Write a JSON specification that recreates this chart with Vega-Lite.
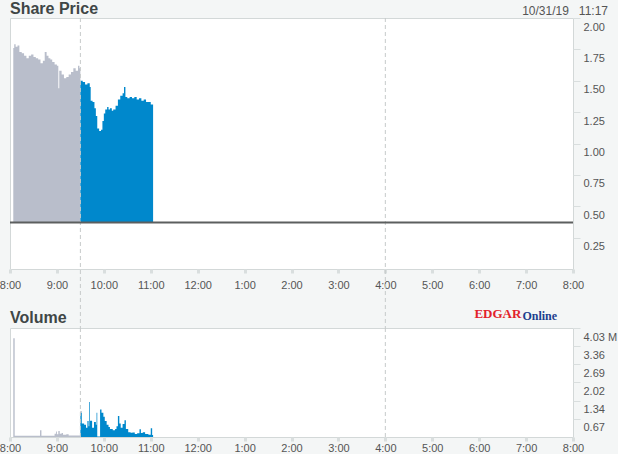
{
  "$schema": "https://vega.github.io/schema/vega-lite/v6.json",
  "background": "#f4f6f6",
  "padding": {"left": -2, "top": 0, "right": 0, "bottom": 0},
  "bounds": "flush",
  "spacing": 59,
  "config": {
    "font": "Liberation Sans",
    "view": {"fill": "white", "stroke": "#d3d8d8"},
    "axis": {"grid": false, "domain": false, "labelFont": "Liberation Sans", "labelFontSize": 11, "labelColor": "#555555", "tickColor": "#d9dede", "labelOverlap": false}
  },
  "datasets": {
    "price": [
      {"h": 8.07, "p": 1.76, "s": "pre"}, {"h": 8.09, "p": 1.79, "s": "pre"}, {"h": 8.12, "p": 1.77, "s": "pre"},
      {"h": 8.16, "p": 1.78, "s": "pre"}, {"h": 8.2, "p": 1.73, "s": "pre"}, {"h": 8.25, "p": 1.72, "s": "pre"},
      {"h": 8.3, "p": 1.7, "s": "pre"}, {"h": 8.35, "p": 1.68, "s": "pre"}, {"h": 8.4, "p": 1.7, "s": "pre"},
      {"h": 8.45, "p": 1.71, "s": "pre"}, {"h": 8.5, "p": 1.69, "s": "pre"}, {"h": 8.55, "p": 1.68, "s": "pre"},
      {"h": 8.6, "p": 1.67, "s": "pre"}, {"h": 8.65, "p": 1.64, "s": "pre"}, {"h": 8.7, "p": 1.66, "s": "pre"},
      {"h": 8.74, "p": 1.73, "s": "pre"}, {"h": 8.78, "p": 1.7, "s": "pre"}, {"h": 8.82, "p": 1.68, "s": "pre"},
      {"h": 8.86, "p": 1.67, "s": "pre"}, {"h": 8.9, "p": 1.65, "s": "pre"}, {"h": 8.95, "p": 1.63, "s": "pre"},
      {"h": 9.0, "p": 1.62, "s": "pre"}, {"h": 9.03, "p": 1.44, "s": "pre"}, {"h": 9.05, "p": 1.58, "s": "pre"},
      {"h": 9.1, "p": 1.55, "s": "pre"}, {"h": 9.15, "p": 1.52, "s": "pre"}, {"h": 9.2, "p": 1.53, "s": "pre"},
      {"h": 9.25, "p": 1.55, "s": "pre"}, {"h": 9.3, "p": 1.57, "s": "pre"}, {"h": 9.35, "p": 1.6, "s": "pre"},
      {"h": 9.4, "p": 1.58, "s": "pre"}, {"h": 9.45, "p": 1.62, "s": "pre"}, {"h": 9.48, "p": 1.6, "s": "pre"},
      {"h": 9.5, "p": 1.6, "s": "pre"},
      {"h": 9.5, "p": 1.5, "s": "reg"}, {"h": 9.55, "p": 1.49, "s": "reg"}, {"h": 9.6, "p": 1.47, "s": "reg"},
      {"h": 9.65, "p": 1.48, "s": "reg"}, {"h": 9.7, "p": 1.45, "s": "reg"}, {"h": 9.72, "p": 1.34, "s": "reg"},
      {"h": 9.76, "p": 1.33, "s": "reg"}, {"h": 9.8, "p": 1.28, "s": "reg"}, {"h": 9.83, "p": 1.22, "s": "reg"},
      {"h": 9.86, "p": 1.12, "s": "reg"}, {"h": 9.9, "p": 1.1, "s": "reg"}, {"h": 9.94, "p": 1.11, "s": "reg"},
      {"h": 9.97, "p": 1.18, "s": "reg"}, {"h": 10.0, "p": 1.24, "s": "reg"}, {"h": 10.03, "p": 1.27, "s": "reg"},
      {"h": 10.07, "p": 1.29, "s": "reg"}, {"h": 10.1, "p": 1.27, "s": "reg"}, {"h": 10.13, "p": 1.28, "s": "reg"},
      {"h": 10.17, "p": 1.26, "s": "reg"}, {"h": 10.2, "p": 1.27, "s": "reg"}, {"h": 10.25, "p": 1.3, "s": "reg"},
      {"h": 10.3, "p": 1.35, "s": "reg"}, {"h": 10.35, "p": 1.38, "s": "reg"}, {"h": 10.4, "p": 1.4, "s": "reg"},
      {"h": 10.43, "p": 1.45, "s": "reg"}, {"h": 10.46, "p": 1.37, "s": "reg"}, {"h": 10.5, "p": 1.36, "s": "reg"},
      {"h": 10.55, "p": 1.37, "s": "reg"}, {"h": 10.6, "p": 1.36, "s": "reg"}, {"h": 10.65, "p": 1.37, "s": "reg"},
      {"h": 10.7, "p": 1.35, "s": "reg"}, {"h": 10.75, "p": 1.36, "s": "reg"}, {"h": 10.8, "p": 1.34, "s": "reg"},
      {"h": 10.85, "p": 1.35, "s": "reg"}, {"h": 10.9, "p": 1.33, "s": "reg"}, {"h": 10.95, "p": 1.33, "s": "reg"},
      {"h": 11.0, "p": 1.31, "s": "reg"}, {"h": 11.05, "p": 1.3, "s": "reg"}
    ],
    "volume": [
      {"h": 8.07, "v": 3.65, "s": "pre"}, {"h": 8.1, "v": 0.05, "s": "pre"}, {"h": 8.64, "v": 0.25, "s": "pre"},
      {"h": 8.67, "v": 0.05, "s": "pre"}, {"h": 8.95, "v": 0.12, "s": "pre"}, {"h": 8.98, "v": 0.2, "s": "pre"},
      {"h": 9.0, "v": 0.1, "s": "pre"}, {"h": 9.03, "v": 0.22, "s": "pre"}, {"h": 9.06, "v": 0.12, "s": "pre"},
      {"h": 9.1, "v": 0.15, "s": "pre"}, {"h": 9.13, "v": 0.08, "s": "pre"}, {"h": 9.2, "v": 0.1, "s": "pre"},
      {"h": 9.25, "v": 0.06, "s": "pre"}, {"h": 9.5, "v": 0.06, "s": "pre"},
      {"h": 9.5, "v": 0.9, "s": "reg"}, {"h": 9.53, "v": 0.5, "s": "reg"}, {"h": 9.58, "v": 0.45, "s": "reg"},
      {"h": 9.62, "v": 0.34, "s": "reg"}, {"h": 9.65, "v": 0.59, "s": "reg"}, {"h": 9.675, "v": 0.4, "s": "reg"},
      {"h": 9.69, "v": 1.29, "s": "reg"}, {"h": 9.705, "v": 0.6, "s": "reg"}, {"h": 9.75, "v": 0.34, "s": "reg"},
      {"h": 9.79, "v": 0.55, "s": "reg"}, {"h": 9.83, "v": 0.45, "s": "reg"}, {"h": 9.845, "v": 0.9, "s": "reg"},
      {"h": 9.86, "v": 0.02, "s": "reg"}, {"h": 9.92, "v": 1.02, "s": "reg"}, {"h": 9.95, "v": 0.9, "s": "reg"},
      {"h": 9.99, "v": 0.75, "s": "reg"}, {"h": 10.02, "v": 0.59, "s": "reg"}, {"h": 10.06, "v": 0.45, "s": "reg"},
      {"h": 10.1, "v": 0.37, "s": "reg"}, {"h": 10.13, "v": 0.3, "s": "reg"}, {"h": 10.19, "v": 0.25, "s": "reg"},
      {"h": 10.24, "v": 0.3, "s": "reg"}, {"h": 10.27, "v": 0.4, "s": "reg"}, {"h": 10.3, "v": 0.78, "s": "reg"},
      {"h": 10.33, "v": 0.5, "s": "reg"}, {"h": 10.36, "v": 0.34, "s": "reg"}, {"h": 10.4, "v": 0.48, "s": "reg"},
      {"h": 10.44, "v": 0.62, "s": "reg"}, {"h": 10.47, "v": 0.3, "s": "reg"}, {"h": 10.52, "v": 0.18, "s": "reg"},
      {"h": 10.57, "v": 0.16, "s": "reg"}, {"h": 10.61, "v": 0.17, "s": "reg"}, {"h": 10.66, "v": 0.11, "s": "reg"},
      {"h": 10.71, "v": 0.14, "s": "reg"}, {"h": 10.76, "v": 0.29, "s": "reg"}, {"h": 10.79, "v": 0.15, "s": "reg"},
      {"h": 10.83, "v": 0.18, "s": "reg"}, {"h": 10.88, "v": 0.11, "s": "reg"}, {"h": 10.95, "v": 0.08, "s": "reg"},
      {"h": 11.0, "v": 0.32, "s": "reg"}, {"h": 11.03, "v": 0.07, "s": "reg"}, {"h": 11.05, "v": 0.07, "s": "reg"}
    ],
    "sessions": [{"h": 9.5}, {"h": 16}]
  },
  "vconcat": [
    {
      "width": 563,
      "height": 251,
      "layer": [
        {
          "data": {"name": "price"},
          "mark": {"type": "area", "interpolate": "step-after"},
          "encoding": {
            "x": {"field": "h", "type": "quantitative", "title": null,
              "scale": {"domain": [8, 20], "nice": false, "zero": false},
              "axis": {"values": [8, 9, 10, 11, 12, 13, 14, 15, 16, 17, 18, 19, 20], "tickCount": 30, "labelExpr": "(datum.value % 12 == 0 ? 12 : datum.value % 12) + ':00'", "tickSize": 4, "tickWidth": 3, "labelPadding": 6, "labelFlush": false, "labelOverlap": false}},
            "y": {"field": "p", "type": "quantitative", "title": null,
              "scale": {"domain": [0, 2], "nice": false},
              "axis": {"orient": "right", "values": [0.25, 0.5, 0.75, 1, 1.25, 1.5, 1.75, 2], "tickCount": 30, "format": ".2f", "tickSize": 7, "labelPadding": 3, "labelBaseline": "top", "labelOffset": 3, "labelOverlap": false, "labelBound": false}},
            "y2": {"datum": 0.37},
            "color": {"field": "s", "type": "nominal", "scale": {"domain": ["pre", "reg"], "range": ["#b9becb", "#0088cc"]}, "legend": null}
          }
        },
        {
          "data": {"name": "sessions"},
          "mark": {"type": "rule", "color": "#c6caca", "strokeDash": [4, 3], "strokeWidth": 1},
          "encoding": {
            "x": {"field": "h", "type": "quantitative", "title": null},
            "y": {"datum": 2, "title": null},
            "y2": {"datum": -0.47}
          }
        },
        {
          "data": {"values": [{"base": 0.37}]},
          "mark": {"type": "rule", "color": "#5c5f5f", "strokeWidth": 2},
          "encoding": {"y": {"field": "base", "type": "quantitative", "title": null}}
        },
        {
          "data": {"values": [{"label": "Share Price"}]},
          "mark": {"type": "text", "align": "left", "baseline": "middle", "dy": -9, "fontSize": 16, "fontWeight": "bold", "color": "#3f4646", "font": "Liberation Sans"},
          "encoding": {
            "x": {"datum": 8, "title": null},
            "y": {"datum": 2, "title": null},
            "text": {"field": "label"}
          }
        },
        {
          "data": {"values": [{"stamp": "10/31/19\u00a0\u00a0 11:17"}]},
          "mark": {"type": "text", "align": "right", "baseline": "middle", "dx": 35, "dy": -7, "fontSize": 12, "color": "#555555", "font": "Liberation Sans"},
          "encoding": {
            "x": {"datum": 20, "title": null},
            "y": {"datum": 2, "title": null},
            "text": {"field": "stamp"}
          }
        }
      ]
    },
    {
      "width": 563,
      "height": 109,
      "layer": [
        {
          "data": {"name": "volume"},
          "mark": {"type": "area", "interpolate": "step-after"},
          "encoding": {
            "x": {"field": "h", "type": "quantitative", "title": null,
              "scale": {"domain": [8, 20], "nice": false, "zero": false},
              "axis": {"values": [8, 9, 10, 11, 12, 13, 14, 15, 16, 17, 18, 19, 20], "tickCount": 30, "labelExpr": "(datum.value % 12 == 0 ? 12 : datum.value % 12) + ':00'", "tickSize": 4, "tickWidth": 3, "labelPadding": 1, "labelFlush": false, "labelOverlap": false}},
            "y": {"field": "v", "type": "quantitative", "title": null,
              "scale": {"domain": [0, 4.03], "nice": false},
              "axis": {"orient": "right", "values": [0.67, 1.34, 2.02, 2.69, 3.36, 4.03], "tickCount": 30, "labelExpr": "datum.value == 4.03 ? '4.03 M' : format(datum.value, '.2f')", "tickSize": 7, "labelPadding": 3, "labelBaseline": "top", "labelOffset": 3, "labelOverlap": false, "labelBound": false}},
            "color": {"field": "s", "type": "nominal", "scale": {"domain": ["pre", "reg"], "range": ["#bfc3cc", "#0088cc"]}, "legend": null}
          }
        },
        {
          "data": {"name": "sessions"},
          "mark": {"type": "rule", "color": "#c6caca", "strokeDash": [4, 3], "strokeWidth": 1},
          "encoding": {"x": {"field": "h", "type": "quantitative", "title": null}}
        },
        {
          "data": {"values": [{"label": "Volume"}]},
          "mark": {"type": "text", "align": "left", "baseline": "middle", "dy": -10, "fontSize": 16, "fontWeight": "bold", "color": "#3f4646", "font": "Liberation Sans"},
          "encoding": {
            "x": {"datum": 8, "title": null},
            "y": {"datum": 4.03, "title": null},
            "text": {"field": "label"}
          }
        },
        {
          "data": {"values": [{"word": "EDGAR"}]},
          "mark": {"type": "text", "align": "right", "baseline": "middle", "dy": -14, "fontSize": 13, "fontWeight": "bold", "color": "#e2222b", "font": "Liberation Serif"},
          "encoding": {
            "x": {"datum": 18.9, "title": null},
            "y": {"datum": 4.03, "title": null},
            "text": {"field": "word"}
          }
        },
        {
          "data": {"values": [{"word": "Online"}]},
          "mark": {"type": "text", "align": "left", "baseline": "middle", "dy": -12, "dx": 1, "fontSize": 12, "fontWeight": "bold", "color": "#1d3f8f", "font": "Liberation Serif"},
          "encoding": {
            "x": {"datum": 18.9, "title": null},
            "y": {"datum": 4.03, "title": null},
            "text": {"field": "word"}
          }
        }
      ]
    }
  ]
}
